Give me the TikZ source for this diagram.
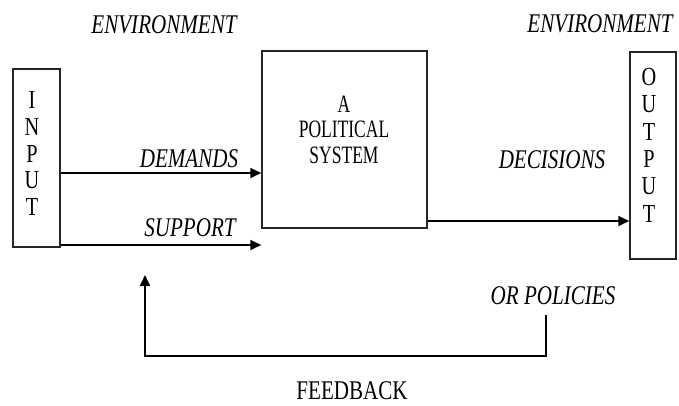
\documentclass[tikz,border=0pt]{standalone}
\usepackage{fontspec}
\setmainfont{Liberation Serif}[FakeStretch=0.78]
\newfontfamily\boxfont{Liberation Serif}[FakeStretch=0.7]
\usetikzlibrary{arrows.meta}
\begin{document}
\begin{tikzpicture}[x=1pt,y=-1pt,
  frame/.style={draw=black!85, line width=1.5pt, inner sep=0pt},
  flow/.style={line width=2pt, -{Triangle[length=11pt,width=10pt]}},
  tag/.style={font=\fontsize{27}{30}\selectfont\itshape, inner sep=0pt},
  caption/.style={font=\fontsize{27}{30}\selectfont, inner sep=0pt},
  letter/.style={font=\fontsize{26}{28}\selectfont, inner sep=0pt},
  systext/.style={font=\boxfont\fontsize{25}{28}\selectfont, inner sep=0pt}]
\useasboundingbox (0,0) rectangle (679,405);

% boxes
\node[frame, minimum width=47pt, minimum height=178pt] (input) at (36.5,158) {};
\node[frame, minimum width=165pt, minimum height=177pt] (system) at (344.5,139.5) {};
\node[frame, minimum width=46pt, minimum height=207pt] (output) at (653,155.5) {};

% vertical lettering
\foreach \ch [count=\i] in {I,N,P,U,T}
  \node[letter] (in\i) at (32,{100+26.8*(\i-1)}) {\ch};
\foreach \ch [count=\i] in {O,U,T,P,U,T}
  \node[letter] (out\i) at (649,{77+27.4*(\i-1)}) {\ch};

% system label
\node[systext] (sysA) at (344,104) {A};
\node[systext] (sysB) at (344,129) {POLITICAL};
\node[systext] (sysC) at (344,155) {SYSTEM};

% labels
\node[tag] (envL) at (164,25) {ENVIRONMENT};
\node[tag] (envR) at (600,24) {ENVIRONMENT};
\node[tag] (demands) at (189,159) {DEMANDS};
\node[tag] (support) at (190,228) {SUPPORT};
\node[tag] (decisions) at (552,160) {DECISIONS};
\node[tag] (policies) at (553,296) {OR POLICIES};
\node[caption] (feedback) at (352,391) {FEEDBACK};

% connector anchors
\coordinate (demY) at (0,173);
\coordinate (supY) at (0,245);
\coordinate (decY) at (0,221);
\coordinate (fbstart) at (546,315);
\coordinate (fbend) at (145,275);

% connectors
\draw[flow] (input.east |- demY) -- (system.west |- demY);
\draw[flow] (input.east |- supY) -- (system.west |- supY);
\draw[flow] (system.east |- decY) -- (output.west |- decY);
\draw[flow] (fbstart) -- ++(0,41) -| (fbend);
\end{tikzpicture}
\end{document}
